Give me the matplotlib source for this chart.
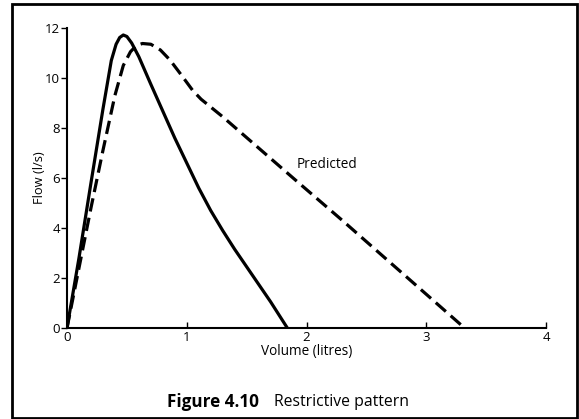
import matplotlib
matplotlib.use("Agg")
import matplotlib.pyplot as plt
from matplotlib.patches import Rectangle

# Measured (restrictive) flow-volume curve
measured_volume = [0.0, 0.10, 0.20, 0.30, 0.37, 0.41, 0.44, 0.47, 0.50, 0.54, 0.60,
                   0.70, 0.90, 1.10, 1.20, 1.30, 1.40, 1.50, 1.60, 1.70, 1.84]
measured_flow = [0.0, 2.8, 5.8, 8.75, 10.7, 11.35, 11.62, 11.72, 11.66, 11.4, 10.85,
                 9.75, 7.6, 5.6, 4.7, 3.9, 3.15, 2.45, 1.75, 1.05, 0.0]

# Predicted flow-volume curve
predicted_volume = [0.0, 0.10, 0.20, 0.30, 0.40, 0.47, 0.53, 0.58, 0.63, 0.70, 0.78,
                    0.86, 0.95, 1.05, 1.12, 1.30, 1.60, 1.90, 2.30, 2.62, 3.00, 3.32]
predicted_flow = [0.0, 2.4, 4.8, 7.1, 9.3, 10.5, 11.05, 11.3, 11.38, 11.35, 11.12,
                  10.72, 10.15, 9.5, 9.15, 8.45, 7.2, 5.95, 4.3, 2.95, 1.35, 0.0]

x_ticks = [0, 1, 2, 3, 4]
y_ticks = [0, 2, 4, 6, 8, 10, 12]
y_top_tick = [12]

FONT = "Open Sans"

fig = plt.figure(figsize=(5.79, 4.19), dpi=100)
ax = fig.add_axes([67 / 579, 1 - 328 / 419, (546 - 67) / 579, (328 - 28) / 419])

ax.plot(measured_volume, measured_flow, color="black", lw=2.3,
        solid_capstyle="butt", solid_joinstyle="round")
ax.plot(predicted_volume, predicted_flow, color="black", lw=2.3,
        linestyle=(0, (4.2, 2.0)), dash_capstyle="butt")

ax.set_xlim(0, 4)
ax.set_ylim(0, 12)
ax.set_xticks(x_ticks)
ax.set_yticks(y_ticks)
ax.set_yticks(y_top_tick, minor=True)
ax.set_xticklabels([str(v) for v in x_ticks], fontsize=9.5, family=FONT)
ax.set_yticklabels([str(v) for v in y_ticks], fontsize=9.5, family=FONT)
ax.tick_params(axis="x", direction="in", length=4, width=1, pad=2)
ax.tick_params(axis="y", direction="out", length=4, width=1, pad=1)
ax.tick_params(axis="y", which="minor", direction="in", length=4, width=1.2)

for s in ["top", "right"]:
    ax.spines[s].set_visible(False)
for s in ["left", "bottom"]:
    ax.spines[s].set_linewidth(1.5)

ax.set_xlabel("Volume (litres)", fontsize=9.8, family=FONT, labelpad=0)
ax.set_ylabel("Flow (l/s)", fontsize=9.3, family=FONT, labelpad=-1)

ax.text(1.92, 6.55, "Predicted", fontsize=9.8, family=FONT, ha="left", va="center")

fig.text(167 / 579, 1 - 402 / 419, "Figure 4.10", fontsize=12.3, weight="bold",
         family=FONT, ha="left", va="center")
fig.text(274 / 579, 1 - 402 / 419, "Restrictive pattern", fontsize=11.3, family=FONT,
         ha="left", va="center")

# outer border of the figure panel
fig.patches.append(Rectangle((12 / 579, 1 - 418 / 419), (577 - 12) / 579, (418 - 4) / 419,
                             transform=fig.transFigure, fill=False,
                             edgecolor="black", lw=2.0))

fig.savefig("out.png", dpi=100)
